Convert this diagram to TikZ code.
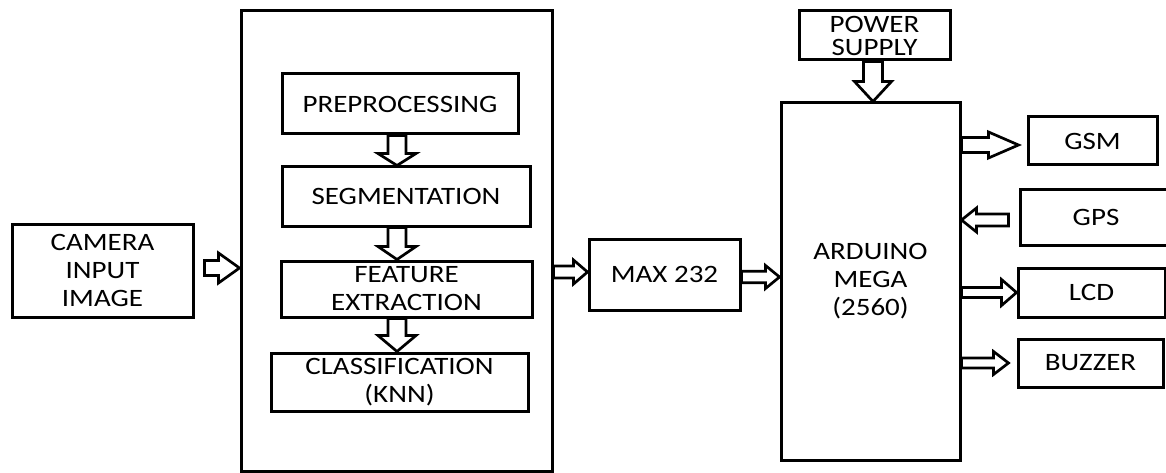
\documentclass[tikz,border=0pt]{standalone}
\usepackage{fontspec}
\setmainfont{Carlito}[FakeStretch=1.16]
\usetikzlibrary{calc}
\tikzset{
  box/.style={draw, line width=3pt, inner sep=0pt, align=center, font=\fontsize{25}{28}\selectfont},
  blk/.style={draw, line width=2.7pt, line join=miter},
}
\newcommand\harr[5]{\draw[blk] let \p1=(#1), \p2=(#2), \n1={\x2-(#5)} in
  ({\x1},{\y1+#3}) -- ({\n1},{\y1+#3}) -- ({\n1},{\y1+#4}) -- ({\x2},{\y1}) --
  ({\n1},{\y1-#4}) -- ({\n1},{\y1-#3}) -- ({\x1},{\y1-#3}) -- cycle;}
\newcommand\varr[5]{\draw[blk] let \p1=(#1), \p2=(#2), \n1={\y2+#5} in
  ({\x1+#3},{\y1}) -- ({\x1+#3},{\n1}) -- ({\x1+#4},{\n1}) -- ({\x1},{\y2}) --
  ({\x1-#4},{\n1}) -- ({\x1-#3},{\n1}) -- ({\x1-#3},{\y1}) -- cycle;}
\begin{document}
\begin{tikzpicture}[x=1pt,y=-1pt]
\useasboundingbox (0,0) rectangle (1166,473);
% boxes
\node[box, minimum width=181pt, minimum height=93pt] (cam) at (102.5,270.5) {CAMERA\\INPUT\\IMAGE};
\node[box, minimum width=311pt, minimum height=460pt] (big) at (396.5,241) {};
\node[box, minimum width=236pt, minimum height=60pt] (pre) at (400,104) {PREPROCESSING};
\node[box, minimum width=248pt, minimum height=59pt] (seg) at (406,196.5) {SEGMENTATION};
\node[box, minimum width=251pt, minimum height=56pt] (feat) at (406.5,289) {FEATURE\\EXTRACTION};
\node[box, minimum width=257pt, minimum height=58pt] (cls) at (399.5,382) {CLASSIFICATION\\(KNN)};
\node[box, minimum width=151pt, minimum height=71pt] (max) at (664.5,274.5) {MAX 232};
\node[box, minimum width=179pt, minimum height=357pt] (ard) at (870.5,281.5) {ARDUINO\\MEGA\\(2560)};
\node[box, minimum width=151pt, minimum height=49pt, font=\fontsize{25}{23}\selectfont] (pwr) at (874.5,35.5) {POWER\\SUPPLY};
\node[box, minimum width=129pt, minimum height=48pt] (gsm) at (1092.5,141) {GSM};
\node[box, minimum width=152pt, minimum height=56pt] (gps) at (1096,217) {GPS};
\node[box, minimum width=147pt, minimum height=49pt] (lcd) at (1091.5,292.5) {LCD};
\node[box, minimum width=145pt, minimum height=48pt] (buz) at (1090.5,363) {BUZZER};
% block arrows
\harr{$(cam.east)+(10,-2.5)$}{big.west}{7.5pt}{15pt}{21pt}
\varr{$(pre.south)+(-3,0)$}{seg.north}{9pt}{19pt}{12pt}
\varr{$(seg.south)+(-9,0)$}{feat.north}{9pt}{19pt}{13pt}
\varr{$(feat.south)+(-9.5,0)$}{cls.north}{9pt}{19pt}{16pt}
\harr{$(big.east |- max.west)+(0,-2.5)$}{max.west}{6pt}{12pt}{14pt}
\harr{$(max.east)+(0,2.5)$}{ard.west}{5.7pt}{11.5pt}{14pt}
\varr{$(pwr.south)+(-1.5,0)$}{ard.north}{9.5pt}{18.5pt}{20pt}
\harr{$(ard.east |- gsm.west)+(0,4)$}{$(gsm.west)+(-8,0)$}{7.5pt}{13pt}{30pt}
\harr{$(gps.west)+(-10,3)$}{ard.east}{6pt}{12pt}{-15pt}
\harr{$(ard.east |- lcd.west)$}{lcd.west}{5pt}{13pt}{15pt}
\harr{$(ard.east |- buz.west)$}{$(buz.west)+(-8,0)$}{5pt}{11.5pt}{15pt}
\end{tikzpicture}
\end{document}
